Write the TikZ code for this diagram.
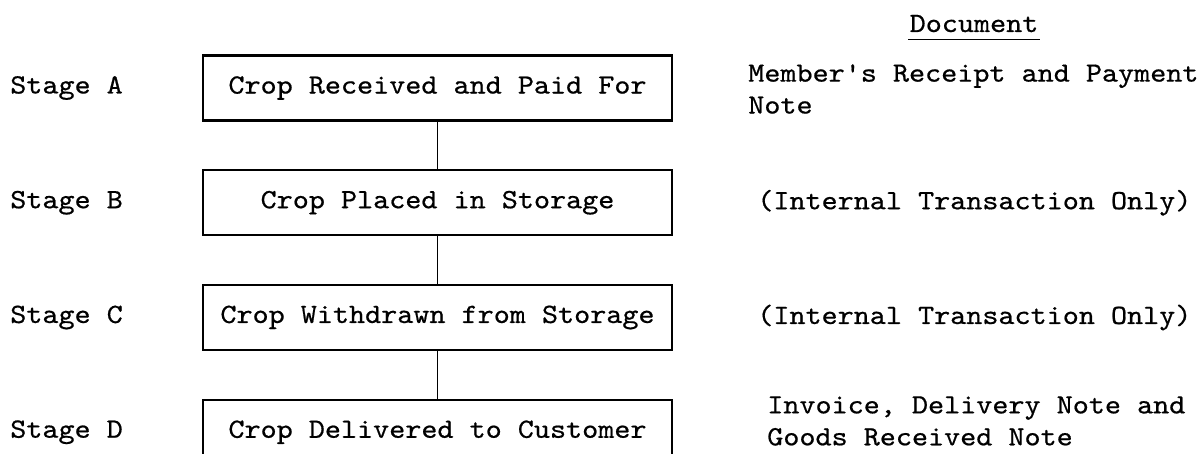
\documentclass[tikz,border=0pt]{standalone}
\usepackage{fontspec}
\newfontfamily\typewriter[FakeStretch=1.1,FakeBold=0.6,Ligatures=TeXOff]{lmmono10-regular.otf}
\usetikzlibrary{positioning}
\tikzset{
  stagebox/.style  = {draw, line width=1.5pt, minimum width=11.725cm,
                      minimum height=1.625cm, inner sep=0pt},
  link/.style      = {line width=1pt},
  stagelabel/.style= {anchor=west, inner sep=0pt},
  doclabel/.style  = {anchor=west, align=left, inner sep=0pt},
}

\begin{document}
\begin{tikzpicture}[x=0.025cm, y=-0.025cm,
    every node/.style={font=\typewriter\fontsize{19.8}{22.7}\selectfont}]
  \useasboundingbox (0,0) rectangle (1200,453);

  % the four stages
  \node[stagebox] (recv) at (437.5,88) {Crop Received and Paid For};
  \node[stagebox, below=1.19cm of recv]  (store)    {Crop Placed in Storage};
  \node[stagebox, below=1.19cm of store] (withdraw) {Crop Withdrawn from Storage};
  \node[stagebox, below=1.19cm of withdraw] (deliver) {Crop Delivered to Customer};

  \draw[link] (recv) -- (store);
  \draw[link] (store) -- (withdraw);
  \draw[link] (withdraw) -- (deliver);

  % stage names on the left
  \node[stagelabel] (stA) at (10,88) {Stage A};
  \node[stagelabel] (stB) at (stA.west |- store)    {Stage B};
  \node[stagelabel] (stC) at (stA.west |- withdraw) {Stage C};
  \node[stagelabel] (stD) at (stA.west |- deliver)  {Stage D};

  % documents column
  \node[anchor=base, inner xsep=1pt, inner ysep=5pt] (dochdr) at (974,32) {Document};
  \draw[line width=1.1pt] (dochdr.south west) -- (dochdr.south east);

  \node[doclabel] (docA) at (748,89) {Member's Receipt and Payment\\Note};
  \node[doclabel] (docB) at (757,0 |- store)    {(Internal Transaction Only)};
  \node[doclabel] (docC) at (757,0 |- withdraw) {(Internal Transaction Only)};
  \node[doclabel] (docD) at (767,421)
       {Invoice, Delivery Note and\\Goods Received Note};
\end{tikzpicture}
\end{document}
